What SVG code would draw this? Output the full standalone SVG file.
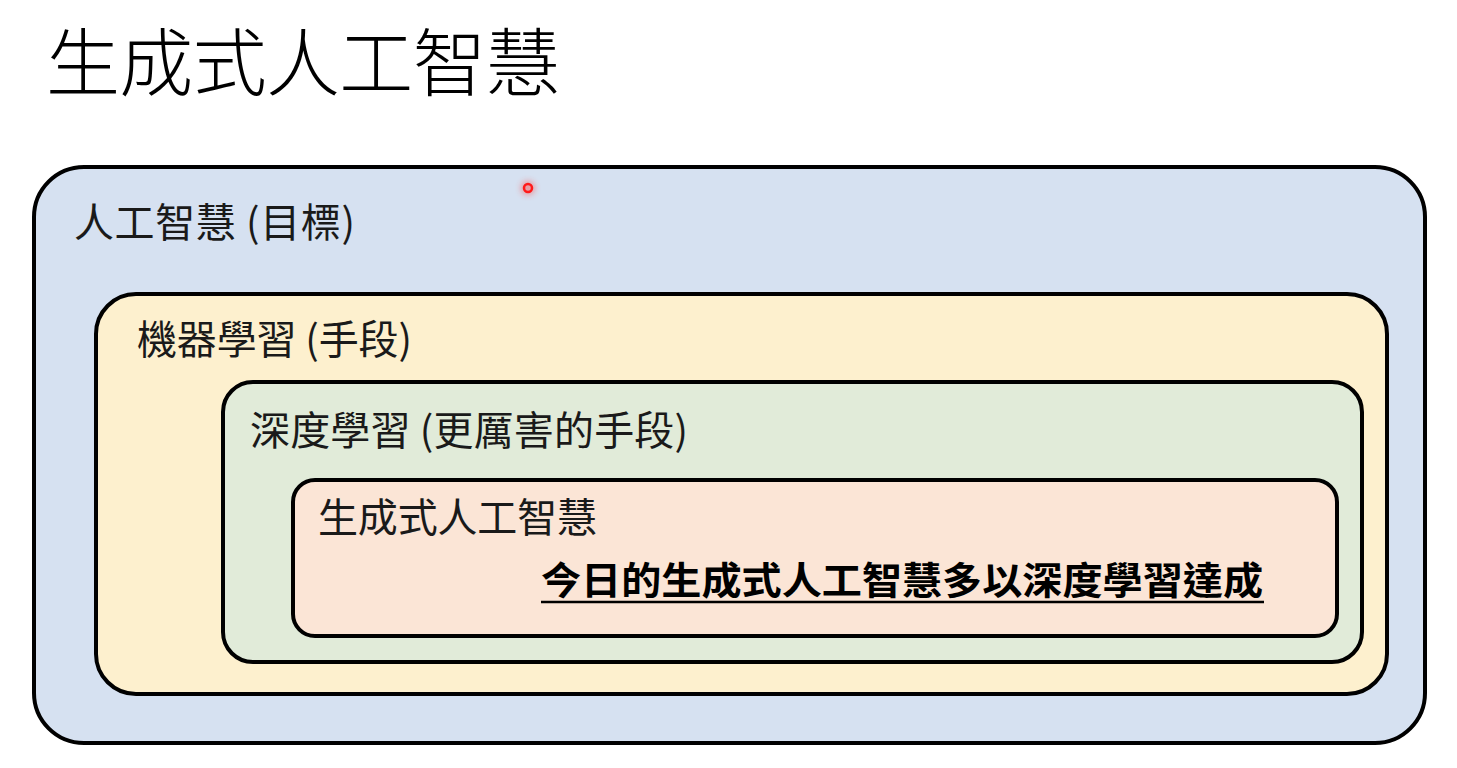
<svg xmlns="http://www.w3.org/2000/svg" width="1457" height="768" viewBox="0 0 1457 768">
<defs>
<style>
.box{stroke:#000;stroke-width:4}
.lbl{font-family:"Noto Sans CJK TC","Noto Sans CJK SC",sans-serif;font-size:40px;fill:#1a1a1a}
.title{font-family:"Noto Sans CJK TC","Noto Sans CJK SC",sans-serif;font-size:74px;font-weight:300;fill:#000}
.bold{font-family:"Noto Sans CJK TC","Noto Sans CJK SC",sans-serif;font-size:38px;font-weight:700;fill:#000}
</style>
<filter id="glow" x="-2" y="-2" width="5" height="5"><feGaussianBlur stdDeviation="3"/></filter>
</defs>
<rect width="1457" height="768" fill="#fff"/>
<text class="title" x="46" y="90" textLength="514" lengthAdjust="spacing">生成式人工智慧</text>
<g id="ai">
<rect class="box" x="34" y="167" width="1391" height="576" rx="50" fill="#d6e1f1"/>
<text class="lbl" x="74" y="237" textLength="281" lengthAdjust="spacing">人工智慧 (目標)</text>
</g>
<g id="ml">
<rect class="box" x="96" y="294" width="1291" height="400" rx="40" fill="#fdf0ce"/>
<text class="lbl" x="137" y="354" textLength="275" lengthAdjust="spacing">機器學習 (手段)</text>
</g>
<g id="dl">
<rect class="box" x="223" y="382" width="1139" height="280" rx="30" fill="#e1ebd9"/>
<text class="lbl" x="250" y="445" textLength="438" lengthAdjust="spacing">深度學習 (更厲害的手段)</text>
</g>
<g id="genai">
<rect class="box" x="293" y="480" width="1044" height="156" rx="22" fill="#fbe5d6"/>
<text class="lbl" x="318" y="532" textLength="279" lengthAdjust="spacing">生成式人工智慧</text>
<text class="bold" x="541" y="594" textLength="722" lengthAdjust="spacingAndGlyphs">今日的生成式人工智慧多以深度學習達成</text>
<line x1="541" y1="602" x2="1264" y2="602" stroke="#000" stroke-width="2.5"/>
</g>
<g id="connectors"></g>
<g id="pointer">
<circle cx="528" cy="188" r="7" fill="#ff3b30" opacity="0.45" filter="url(#glow)"/>
<circle cx="528" cy="188" r="4" fill="none" stroke="#ff1a1a" stroke-width="2.5"/>
</g>
</svg>
